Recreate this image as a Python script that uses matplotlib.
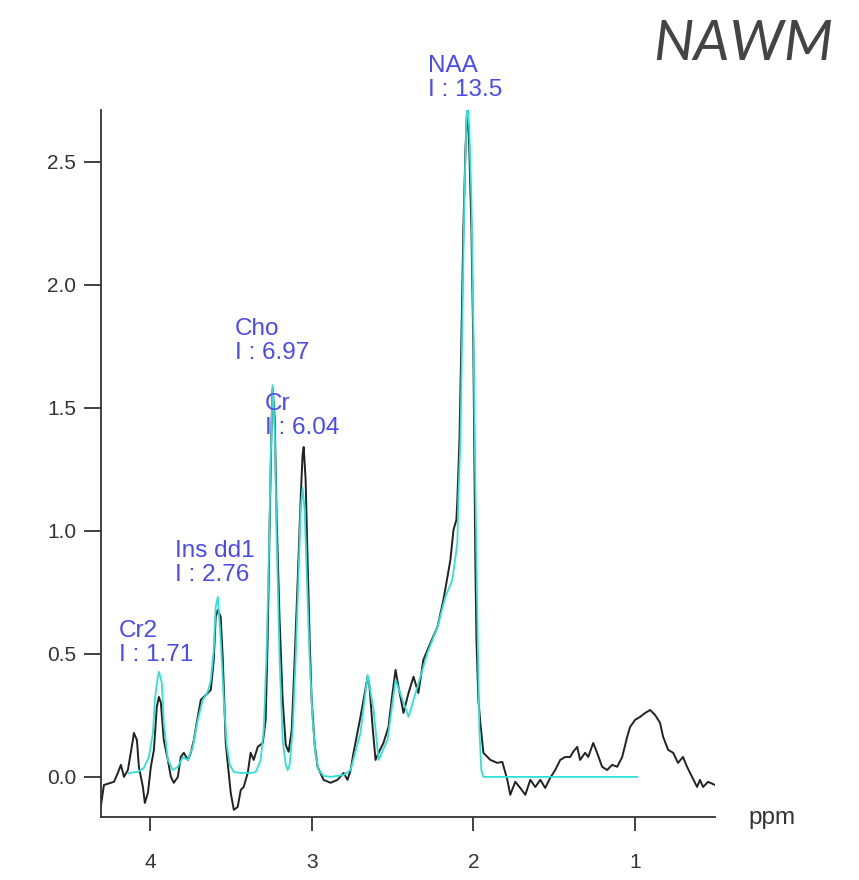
import matplotlib
matplotlib.use("Agg")
import matplotlib.pyplot as plt

ppm_data = [4.302, 4.284, 4.241, 4.222, 4.198, 4.179, 4.160, 4.136, 4.105, 4.099, 4.080, 4.068,
            4.043, 4.031, 4.012, 3.994, 3.975, 3.957, 3.944, 3.932, 3.914, 3.889, 3.870, 3.852,
            3.827, 3.809, 3.790, 3.765, 3.747, 3.728, 3.704, 3.685, 3.667, 3.642, 3.623, 3.605,
            3.593, 3.580, 3.562, 3.549, 3.531, 3.519, 3.500, 3.481, 3.457, 3.438, 3.420, 3.395,
            3.377, 3.358, 3.333, 3.302, 3.284, 3.272, 3.259, 3.247, 3.241, 3.228, 3.216, 3.198,
            3.179, 3.160, 3.142, 3.123, 3.105, 3.086, 3.068, 3.056, 3.049, 3.037, 3.025, 3.012,
            3.000, 2.981, 2.963, 2.926, 2.883, 2.840, 2.802, 2.778, 2.759, 2.741, 2.698, 2.679,
            2.654, 2.642, 2.623, 2.605, 2.586, 2.556, 2.525, 2.500, 2.481, 2.463, 2.432, 2.401,
            2.370, 2.340, 2.309, 2.265, 2.222, 2.185, 2.160, 2.142, 2.123, 2.105, 2.099, 2.086,
            2.074, 2.062, 2.049, 2.037, 2.025, 2.012, 2.000, 1.988, 1.981, 1.969, 1.957, 1.938,
            1.895, 1.852, 1.821, 1.790, 1.772, 1.741, 1.710, 1.679, 1.648, 1.617, 1.586, 1.556,
            1.525, 1.494, 1.463, 1.432, 1.401, 1.383, 1.358, 1.340, 1.309, 1.290, 1.259, 1.235,
            1.204, 1.173, 1.142, 1.111, 1.080, 1.049, 1.031, 1.000, 0.969, 0.938, 0.907, 0.877,
            0.846, 0.827, 0.796, 0.765, 0.735, 0.704, 0.679, 0.648, 0.617, 0.599, 0.580, 0.549,
            0.506]
signal = [-0.114, -0.033, -0.024, -0.020, 0.016, 0.049, 0.000, 0.028, 0.150, 0.179, 0.150, 0.041,
          -0.041, -0.106, -0.065, 0.041, 0.110, 0.285, 0.325, 0.301, 0.150, 0.069, 0.000, -0.024,
          0.000, 0.081, 0.098, 0.069, 0.098, 0.150, 0.244, 0.313, 0.325, 0.341, 0.354, 0.476,
          0.650, 0.679, 0.650, 0.476, 0.138, 0.057, -0.065, -0.134, -0.122, -0.053, -0.041, 0.016,
          0.098, 0.069, 0.122, 0.138, 0.232, 0.557, 1.045, 1.451, 1.581, 1.451, 1.045, 0.638,
          0.313, 0.130, 0.102, 0.191, 0.476, 0.801, 1.126, 1.309, 1.341, 1.207, 0.882, 0.557,
          0.313, 0.130, 0.041, -0.012, -0.024, -0.012, 0.016, -0.012, 0.028, 0.098, 0.244, 0.313,
          0.407, 0.366, 0.203, 0.069, 0.098, 0.138, 0.203, 0.341, 0.435, 0.366, 0.260, 0.341,
          0.407, 0.341, 0.476, 0.545, 0.610, 0.720, 0.813, 0.882, 1.004, 1.045, 1.126, 1.370,
          1.776, 2.224, 2.549, 2.740, 2.549, 2.224, 1.736, 0.882, 0.557, 0.313, 0.220, 0.098,
          0.069, 0.057, 0.061, -0.012, -0.073, -0.020, -0.045, -0.073, -0.012, -0.041, -0.012, -0.045,
          -0.004, 0.028, 0.069, 0.081, 0.081, 0.102, 0.122, 0.069, 0.098, 0.081, 0.138, 0.098,
          0.041, 0.028, 0.049, 0.041, 0.081, 0.163, 0.203, 0.232, 0.244, 0.260, 0.272, 0.252,
          0.220, 0.163, 0.110, 0.098, 0.057, 0.081, 0.041, 0.000, -0.041, -0.012, -0.041, -0.020,
          -0.033]

# fitted spectrum (cyan)
ppm_fit = [4.136, 4.074, 4.037, 4.006, 3.981, 3.969, 3.951, 3.944, 3.926, 3.914, 3.889, 3.858,
           3.827, 3.796, 3.765, 3.735, 3.704, 3.673, 3.642, 3.623, 3.605, 3.593, 3.580, 3.562,
           3.543, 3.525, 3.506, 3.481, 3.438, 3.377, 3.346, 3.327, 3.315, 3.296, 3.278, 3.265,
           3.253, 3.241, 3.228, 3.216, 3.198, 3.179, 3.160, 3.148, 3.136, 3.117, 3.099, 3.080,
           3.068, 3.056, 3.043, 3.031, 3.012, 2.994, 2.975, 2.957, 2.926, 2.883, 2.802, 2.759,
           2.698, 2.654, 2.617, 2.586, 2.531, 2.481, 2.438, 2.401, 2.346, 2.284, 2.222, 2.173,
           2.130, 2.099, 2.093, 2.080, 2.068, 2.056, 2.043, 2.037, 2.025, 2.012, 2.000, 1.988,
           1.975, 1.963, 1.951, 1.938, 1.463, 0.988]
fit = [0.016, 0.020, 0.037, 0.081, 0.179, 0.313, 0.407, 0.427, 0.382, 0.220, 0.069, 0.028,
       0.041, 0.081, 0.069, 0.122, 0.232, 0.313, 0.346, 0.394, 0.516, 0.691, 0.732, 0.557,
       0.313, 0.130, 0.049, 0.020, 0.016, 0.016, 0.020, 0.049, 0.069, 0.191, 0.516, 0.882,
       1.289, 1.593, 1.411, 0.963, 0.476, 0.150, 0.049, 0.028, 0.049, 0.191, 0.476, 0.841,
       1.085, 1.175, 1.085, 0.841, 0.476, 0.232, 0.089, 0.028, 0.004, 0.000, 0.008, 0.028,
       0.179, 0.415, 0.272, 0.069, 0.150, 0.394, 0.313, 0.244, 0.366, 0.504, 0.610, 0.732,
       0.801, 0.951, 1.126, 1.370, 1.858, 2.346, 2.671, 2.732, 2.630, 2.346, 1.817, 1.207,
       0.626, 0.191, 0.028, 0.000, 0.000, 0.000]

# peak labels
peak_names = ["NAA", "Cho", "Cr", "Ins dd1", "Cr2"]
peak_areas = ["13.5", "6.97", "6.04", "2.76", "1.71"]
label_x = [2.278, 3.475, 3.290, 3.846, 4.191]
label_y = [2.935, 1.866, 1.561, 0.963, 0.638]

x_ticks = [4, 3, 2, 1]
y_ticks = [0.0, 0.5, 1.0, 1.5, 2.0, 2.5]

plt.rcParams["font.family"] = ["Liberation Sans", "DejaVu Sans"]

fig = plt.figure(figsize=(8.59, 8.80), dpi=100)
ax = fig.add_axes([0.1176, 0.0716, 0.7148, 0.8034])

ax.plot(ppm_data, signal, color="#222222", lw=1.4, zorder=2)
ax.plot(ppm_fit, fit, color="#2ee0d6", lw=1.3, zorder=3)

ax.set_xlim(4.302, 0.506)
ax.set_ylim(-0.163, 2.711)

ax.spines[["top", "right"]].set_visible(False)
for s in ["left", "bottom"]:
    ax.spines[s].set_color("#333333")
    ax.spines[s].set_linewidth(1.3)

ax.set_xticks(x_ticks)
ax.set_xticklabels([str(t) for t in x_ticks])
ax.set_yticks(y_ticks)
ax.set_yticklabels([f"{t:.1f}" for t in y_ticks])
ax.tick_params(axis="x", direction="out", length=10, width=1.3, color="#333333",
               labelsize=15, labelcolor="#333333", pad=16)
ax.tick_params(axis="y", direction="out", length=12, width=1.3, color="#333333",
               labelsize=15, labelcolor="#333333", pad=6)

for name, area, lx, ly in zip(peak_names, peak_areas, label_x, label_y):
    ax.text(lx, ly, f"{name}\nI : {area}", color="#4a4af0", fontsize=17.5,
            ha="left", va="top", linespacing=1.12, clip_on=False)

fig.text(748 / 859, 1 - 818 / 880, "ppm", fontsize=17.5, color="#333333",
         ha="left", va="center")
fig.text(833 / 859, 1 - 45 / 880, "NAWM", fontsize=41, color="#444444",
         family=["Lato", "DejaVu Sans"], style="italic", ha="right", va="center")

fig.savefig("out.png", dpi=100)
